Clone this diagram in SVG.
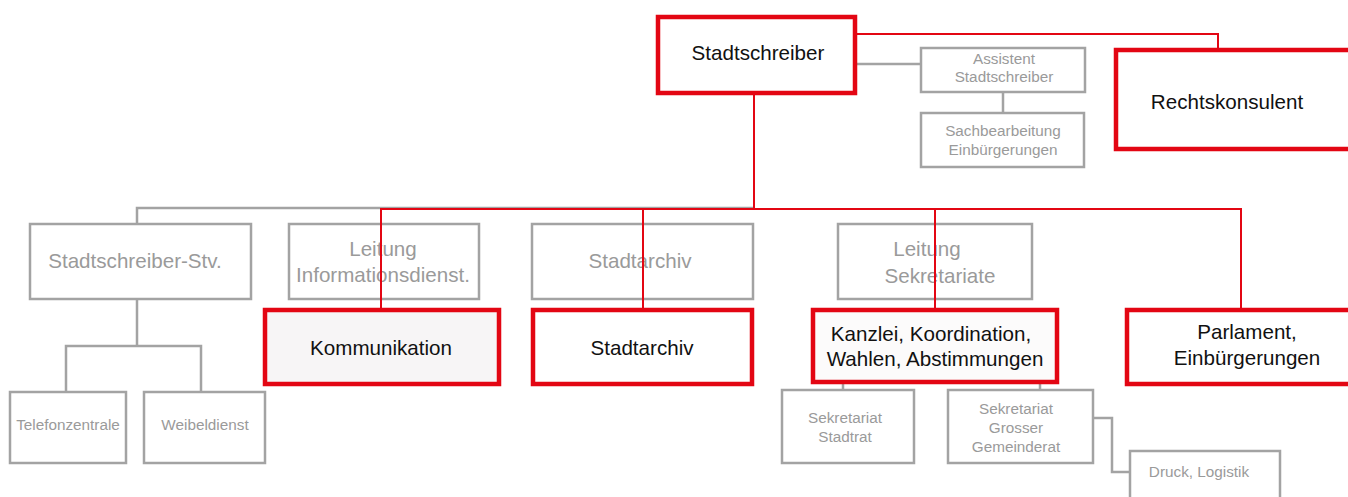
<svg xmlns="http://www.w3.org/2000/svg" width="1348" height="497" viewBox="0 0 1348 497">
<style>
text{font-family:"Liberation Sans",Arial,sans-serif;text-anchor:middle}
.g rect{fill:#fff;stroke:#a3a3a3;stroke-width:2.5}
.g text{fill:#9a9a9a}
.r rect{fill:#fff;stroke:#e30613;stroke-width:4.5}
.r text{fill:#111}
.big{font-size:20.6px}
.sm{font-size:15.3px}
.cg{fill:none;stroke:#a3a3a3;stroke-width:2.5}
.cr{fill:none;stroke:#e30613;stroke-width:2}
</style>
<rect width="1348" height="497" fill="#fff"/>
<g id="gray-nodes" class="g">
<g id="assistent"><rect x="921" y="48" width="164" height="44"/><text class="sm" x="1004" y="64">Assistent</text><text class="sm" x="1004" y="82">Stadtschreiber</text></g>
<g id="sachbearbeitung"><rect x="921" y="113" width="163" height="54"/><text class="sm" x="1003" y="136">Sachbearbeitung</text><text class="sm" x="1003" y="155">Einbürgerungen</text></g>
<g id="stv"><rect x="30" y="224" width="221" height="75"/><text class="big" x="135" y="268">Stadtschreiber-Stv.</text></g>
<g id="leitung-info"><rect x="289" y="224" width="190" height="75"/><text class="big" x="383" y="256">Leitung</text><text class="big" x="383" y="282">Informationsdienst.</text></g>
<g id="stadtarchiv-gray"><rect x="532" y="224" width="221" height="75"/><text class="big" x="640" y="268">Stadtarchiv</text></g>
<g id="leitung-sek"><rect x="838" y="224" width="194" height="75"/><text class="big" x="927" y="256">Leitung</text><text class="big" x="940" y="283">Sekretariate</text></g>
<g id="telefon"><rect x="10" y="392" width="116" height="71"/><text class="sm" x="68" y="430">Telefonzentrale</text></g>
<g id="weibel"><rect x="144" y="392" width="121" height="71"/><text class="sm" x="205" y="430">Weibeldienst</text></g>
<g id="sek-stadtrat"><rect x="782" y="390" width="132" height="73"/><text class="sm" x="845" y="423">Sekretariat</text><text class="sm" x="845" y="442">Stadtrat</text></g>
<g id="sek-ggr"><rect x="948" y="390" width="145" height="73"/><text class="sm" x="1016" y="414">Sekretariat</text><text class="sm" x="1016" y="433">Grosser</text><text class="sm" x="1016" y="452">Gemeinderat</text></g>
<g id="druck"><rect x="1130" y="451" width="150" height="60"/><text class="sm" x="1199" y="477">Druck, Logistik</text></g>
</g>
<g id="connectors">
<path class="cg" d="M856 64H921"/>
<path class="cg" d="M1003 92V113"/>
<path class="cg" d="M137 225V208H754"/>
<path class="cg" d="M137 299V346M66 392V346H201V392"/>
<path class="cg" d="M843 383V390M1040 383V390"/>
<path class="cg" d="M1093 418H1112V472H1130"/>
<path class="cr" d="M856 34H1218V49"/>
<path class="cr" d="M754 94V209"/>
<path class="cr" d="M381 309V209H1241V309"/>
<path class="cr" d="M643 209V309"/>
<path class="cr" d="M935 209V309"/>
</g>
<g id="red-nodes" class="r">
<g id="stadtschreiber"><rect x="658" y="17" width="197" height="76"/><text class="big" x="758" y="60">Stadtschreiber</text></g>
<g id="rechtskonsulent"><rect x="1116" y="50" width="260" height="99"/><text class="big" x="1227" y="109">Rechtskonsulent</text></g>
<g id="kommunikation"><rect x="265" y="310" width="234" height="74" style="fill:#f7f5f6"/><text class="big" x="381" y="355">Kommunikation</text></g>
<g id="stadtarchiv"><rect x="533" y="310" width="219" height="74"/><text class="big" x="642" y="355">Stadtarchiv</text></g>
<g id="kanzlei"><rect x="813" y="310" width="244" height="72" style="fill:#fcfbfb"/><text class="big" x="931" y="341">Kanzlei, Koordination,</text><text class="big" x="935" y="366">Wahlen, Abstimmungen</text></g>
<g id="parlament"><rect x="1127" y="310" width="250" height="74"/><text class="big" x="1247" y="339">Parlament,</text><text class="big" x="1247" y="365">Einbürgerungen</text></g>
</g>
</svg>
